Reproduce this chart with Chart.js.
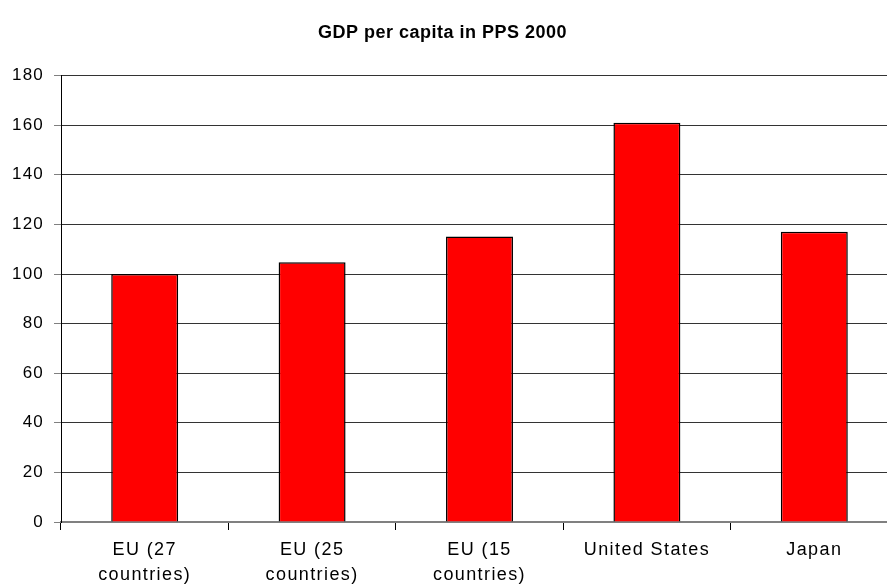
<!DOCTYPE html>
<html>
<head>
<meta charset="utf-8">
<script src="https://cdn.jsdelivr.net/npm/chart.js@4"></script>
<style>
  html, body { margin: 0; padding: 0; background: #fff; overflow: hidden; }
  #wrap { position: absolute; left: -13px; top: 0; width: 912px; height: 585px; }
</style>
</head>
<body>
<div id="wrap"><canvas id="gdp-chart"></canvas></div>
<script>
// GDP per capita in PPS, 2000 (EU27 = 100)
const categories = [['EU (27', 'countries)'], ['EU (25', 'countries)'], ['EU (15', 'countries)'], 'United States', 'Japan'];
const gdpValues = [100, 104.7, 115.1, 161, 117];
const yTicks = [0, 20, 40, 60, 80, 100, 120, 140, 160, 180];

const font = 'Liberation Sans, Arial, sans-serif';

// old Excel charts print text a bit spaced out; pick the spacing from the font in use
const origFill = CanvasRenderingContext2D.prototype.fillText;
CanvasRenderingContext2D.prototype.fillText = function (text, x, y, maxWidth) {
    const f = this.font;
    if (/bold/.test(f)) this.letterSpacing = '0.5px';
    else if (/18px/.test(f)) this.letterSpacing = '1.4px';
    else this.letterSpacing = '1.2px';
    return maxWidth === undefined ? origFill.call(this, text, x, y) : origFill.call(this, text, x, y, maxWidth);
};

const ctx = document.getElementById('gdp-chart').getContext('2d');
const gdpChart = new Chart(ctx, {
    type: 'bar',
    data: {
        labels: categories,
        datasets: [{
            label: 'GDP per capita in PPS',
            data: gdpValues,
            backgroundColor: '#ff0000',
            borderColor: '#000000',
            borderWidth: 1.5,
            borderSkipped: 'bottom',
            barPercentage: 0.4,
            categoryPercentage: 1
        }]
    },
    options: {
        responsive: true,
        maintainAspectRatio: false,
        animation: false,
        layout: { padding: { left: 0, right: 1, top: 0, bottom: 0 } },
        plugins: {
            legend: { display: false },
            tooltip: { enabled: false },
            title: {
                display: true,
                text: 'GDP per capita in PPS 2000',
                color: '#000',
                font: { family: font, size: 18, weight: 'bold', lineHeight: 1.2 },
                padding: { top: 22, bottom: 32 }
            }
        },
        scales: {
            x: {
                afterFit: (scale) => { scale.height = 63; },
                grid: {
                    offset: true,
                    drawOnChartArea: false,
                    drawTicks: true,
                    tickLength: 8,
                    color: '#000'
                },
                border: { color: '#808080', width: 2 },
                ticks: {
                    color: '#000',
                    padding: 7,
                    maxRotation: 0,
                    autoSkip: false,
                    font: { family: font, size: 18, lineHeight: 1.4 }
                }
            },
            y: {
                min: 0,
                max: 180,
                afterFit: (scale) => { scale.width = 74; },
                afterBuildTicks: (scale) => { scale.ticks = yTicks.map(v => ({ value: v })); },
                grid: {
                    color: '#333',
                    lineWidth: 1,
                    tickLength: 7,
                    tickColor: '#808080'
                },
                border: { color: '#000', width: 1 },
                ticks: {
                    color: '#000',
                    padding: 10,
                    font: { family: font, size: 17 }
                }
            }
        }
    }
});
</script>
</body>
</html>
